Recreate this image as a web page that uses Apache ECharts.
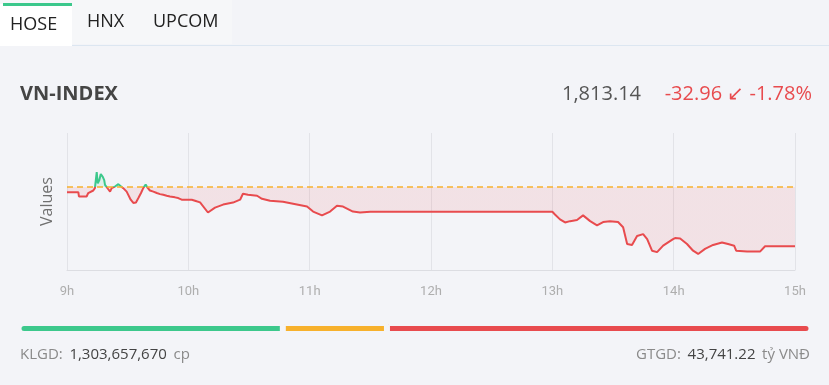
<!DOCTYPE html>
<html>
<head>
<meta charset="utf-8">
<script src="https://cdn.jsdelivr.net/npm/echarts@6/dist/echarts.min.js"></script>
<style>
html,body{margin:0;padding:0;background:#f3f4f8;}
#c{width:829px;height:385px;}
</style>
</head>
<body>
<div id="c"></div>
<script>
// ---- data ----
var tabs = ['HOSE', 'HNX', 'UPCOM'];
var indexName = 'VN-INDEX';
var lastPrice = 1813.14;
var changePts = -32.96;
var changePct = -1.78;
var refPrice = 1846.10;
var tickLabels = ['9h', '10h', '11h', '12h', '13h', '14h', '15h'];
// minutes after 9:00
var minutes = [0, 5.6, 5.9, 9.7, 10.5, 11.4, 13, 13.8, 14.7, 15.2, 16, 16.7, 17.7, 18.4, 18.8, 19.6, 20.4, 21.3, 22.1, 23.7,
  25.4, 26.2, 27.8, 29.5, 30.3, 31.5, 32.8, 34.1, 35.3, 36.6, 37.7, 38.9, 39.7, 41, 42.7, 44.4, 46, 47.6, 49.3, 50.9,
  53.4, 55, 56.7, 59.2, 61.7, 64.1, 65.8, 69.7, 73.2, 77.2, 82.1, 85.6, 87, 89.5, 94, 96.4, 100.4, 106.8, 111.8, 118.7,
  121.7, 126.1, 130.1, 133.5, 136.5, 141.4, 144.9, 150, 240, 241.3, 243.8, 246.3, 248.8, 252.2, 255.2, 258.7, 262.1, 265.1,
  268.5, 272.5, 275, 277, 279.4, 281.9, 284.9, 286.9, 289.3, 291.8, 294.8, 299.7, 300.7, 303.2, 306.6, 309.6, 312.1, 315.5,
  319.5, 323.9, 326.9, 329.9, 330.9, 336.3, 342.7, 345.2, 360];
var prices = [1843.2, 1843.2, 1840.8, 1840.8, 1842.7, 1843.5, 1844.1, 1845.4, 1854.3, 1848.1, 1849.9, 1853.2, 1851.7, 1849.9, 1847.2, 1846.3, 1844.8, 1843.5, 1845.4, 1846.3,
  1847.6, 1846.6, 1845.4, 1843.5, 1841.7, 1839.0, 1837.2, 1837.5, 1839.9, 1842.7, 1845.4, 1847.4, 1845.9, 1844.1, 1843.5, 1842.7, 1842.1, 1841.7, 1841.2, 1840.8,
  1840.3, 1839.9, 1839.0, 1839.0, 1839.0, 1838.1, 1837.5, 1831.9, 1834.6, 1836.3, 1837.4, 1839.0, 1842.3, 1841.7, 1841.2, 1839.5, 1838.4, 1837.9, 1836.8, 1835.2,
  1832.4, 1830.3, 1832.4, 1835.7, 1835.2, 1832.4, 1831.9, 1832.3, 1832.3, 1830.8, 1828.1, 1826.4, 1827.1, 1827.7, 1830.3, 1827.1, 1824.8, 1826.6,
  1827.1, 1826.6, 1823.7, 1814.4, 1813.9, 1818.9, 1819.9, 1817.1, 1810.7, 1809.9, 1813.5, 1817.1, 1817.7, 1817.5, 1814.4, 1810.7, 1808.9, 1811.7,
  1813.9, 1815.3, 1814.4, 1813.5, 1810.7, 1810.2, 1810.2, 1813.14, 1813.14];
var breadthLabels = ['up', 'unchanged', 'down'];
var breadthValues = [132, 52, 212];
var volumeLabel = 'KLGD:';
var volumeValue = '1,303,657,670';
var volumeUnit = 'cp';
var valueLabel = 'GTGD:';
var valueValue = '43,741.22';
var valueUnit = 'tỷ VNĐ';

// ---- styles ----
var BG = '#f3f4f8';
var GREEN = '#3cc88c';
var RED = '#e84b4e';
var ORANGE = '#f7b12c';
var FONT = '"Open Sans", sans-serif';

var lineData = minutes.map(function (m, i) { return [m, prices[i]]; });
var totalBreadth = breadthValues.reduce(function (a, b) { return a + b; }, 0);
var breadthColors = [GREEN, ORANGE, RED];
var breadthRadius = [[5, 0, 0, 5], [0, 0, 0, 0], [0, 5, 5, 0]];
var yMin = 1800, yMax = 1876;

function fmt2(v) { return v.toLocaleString('en-US', { minimumFractionDigits: 2, maximumFractionDigits: 2 }); }

var chart = echarts.init(document.getElementById('c'), null, { renderer: 'canvas' });

var graphics = [
  { type: 'rect', shape: { x: 0, y: 0, width: 232, height: 44 }, style: { fill: '#f6f7f9' }, z: 0 },
  { type: 'rect', shape: { x: 0, y: 45, width: 829, height: 1 }, style: { fill: '#dce6f1' }, z: 1 },
  { type: 'rect', shape: { x: 0, y: 4, width: 72, height: 42 }, style: { fill: '#ffffff' }, z: 2 },
  { type: 'rect', shape: { x: 3, y: 3, width: 69, height: 3 }, style: { fill: GREEN }, z: 3 },
  { type: 'text', x: 10, y: 25, z: 4, style: { text: tabs[0], font: '18px ' + FONT, fill: '#222', verticalAlign: 'middle' } },
  { type: 'text', x: 87, y: 22, z: 4, style: { text: tabs[1], font: '18px ' + FONT, fill: '#222', verticalAlign: 'middle' } },
  { type: 'text', x: 153, y: 22, z: 4, style: { text: tabs[2], font: '18px ' + FONT, fill: '#222', verticalAlign: 'middle' } },
  { type: 'text', x: 20, y: 94, z: 4, style: { text: indexName, font: 'bold 20px ' + FONT, fill: '#454545', verticalAlign: 'middle' } },
  { type: 'text', x: 641, y: 94, z: 4, style: { text: fmt2(lastPrice), font: '20px ' + FONT, fill: '#555', align: 'right', verticalAlign: 'middle' } },
  { type: 'text', x: 812, y: 94, z: 4, style: { text: fmt2(changePts) + ' \u2199 ' + fmt2(changePct) + '%', font: '20px ' + FONT, fill: RED, align: 'right', verticalAlign: 'middle' } },
  { type: 'text', x: 20, y: 355, z: 4, style: {
      text: '{l|' + volumeLabel + '}  {v|' + volumeValue + '}  {l|' + volumeUnit + '}', verticalAlign: 'middle',
      rich: { l: { font: '15px ' + FONT, fill: '#8a8a8a' }, v: { font: '15px ' + FONT, fill: '#444' } } } },
  { type: 'text', x: 810, y: 355, z: 4, style: {
      text: '{l|' + valueLabel + '}  {v|' + valueValue + '}  {l|' + valueUnit + '}', align: 'right', verticalAlign: 'middle',
      rich: { l: { font: '15px ' + FONT, fill: '#8a8a8a' }, v: { font: '15px ' + FONT, fill: '#444' } } } }
];

var breadthSeries = breadthValues.map(function (v, i) {
  return {
    type: 'bar', name: breadthLabels[i], xAxisIndex: 1, yAxisIndex: 1, stack: 'breadth',
    barWidth: 11, data: [v], silent: true,
    itemStyle: { color: breadthColors[i], borderColor: BG, borderWidth: 3, borderRadius: breadthRadius[i] }
  };
});

chart.setOption({
  backgroundColor: BG,
  animation: false,
  graphic: graphics,
  grid: [
    { left: 67, right: 34, top: 133, bottom: 115 },
    { left: 18.5, right: 17.5, top: 323, height: 11 }
  ],
  xAxis: [
    {
      type: 'value', min: 0, max: 360, interval: 60,
      axisLine: { show: true, lineStyle: { color: '#dcdde2', width: 1 } },
      axisTick: { show: false },
      axisLabel: {
        margin: 15, color: '#aeaeae', fontSize: 13, fontFamily: 'Roboto',
        formatter: function (v) { return tickLabels[Math.round(v / 60)]; }
      },
      splitLine: { show: true, lineStyle: { color: '#e2e3e8', width: 1 } }
    },
    { gridIndex: 1, type: 'value', min: 0, max: totalBreadth, show: false }
  ],
  yAxis: [
    {
      type: 'value', min: yMin, max: yMax,
      name: 'Values', nameLocation: 'middle', nameGap: 12,
      nameTextStyle: { color: '#707070', fontSize: 16, fontFamily: 'Open Sans' },
      axisLine: { show: false }, axisTick: { show: false }, axisLabel: { show: false },
      splitLine: { show: false }
    },
    { gridIndex: 1, type: 'category', data: [''], show: false }
  ],
  visualMap: {
    type: 'piecewise', show: false, dimension: 1, seriesIndex: 0,
    pieces: [{ gt: refPrice, lte: yMax + 100, color: GREEN }, { gt: yMin - 100, lte: refPrice, color: RED }]
  },
  series: [{
    type: 'line', data: lineData, showSymbol: false, silent: true,
    lineStyle: { width: 2 },
    areaStyle: { origin: refPrice, opacity: 0.11 },
    markLine: {
      silent: true, symbol: 'none', label: { show: false },
      lineStyle: { color: ORANGE, type: [6, 4], width: 1.5 },
      data: [{ yAxis: refPrice }]
    }
  }].concat(breadthSeries)
});
</script>
</body>
</html>
